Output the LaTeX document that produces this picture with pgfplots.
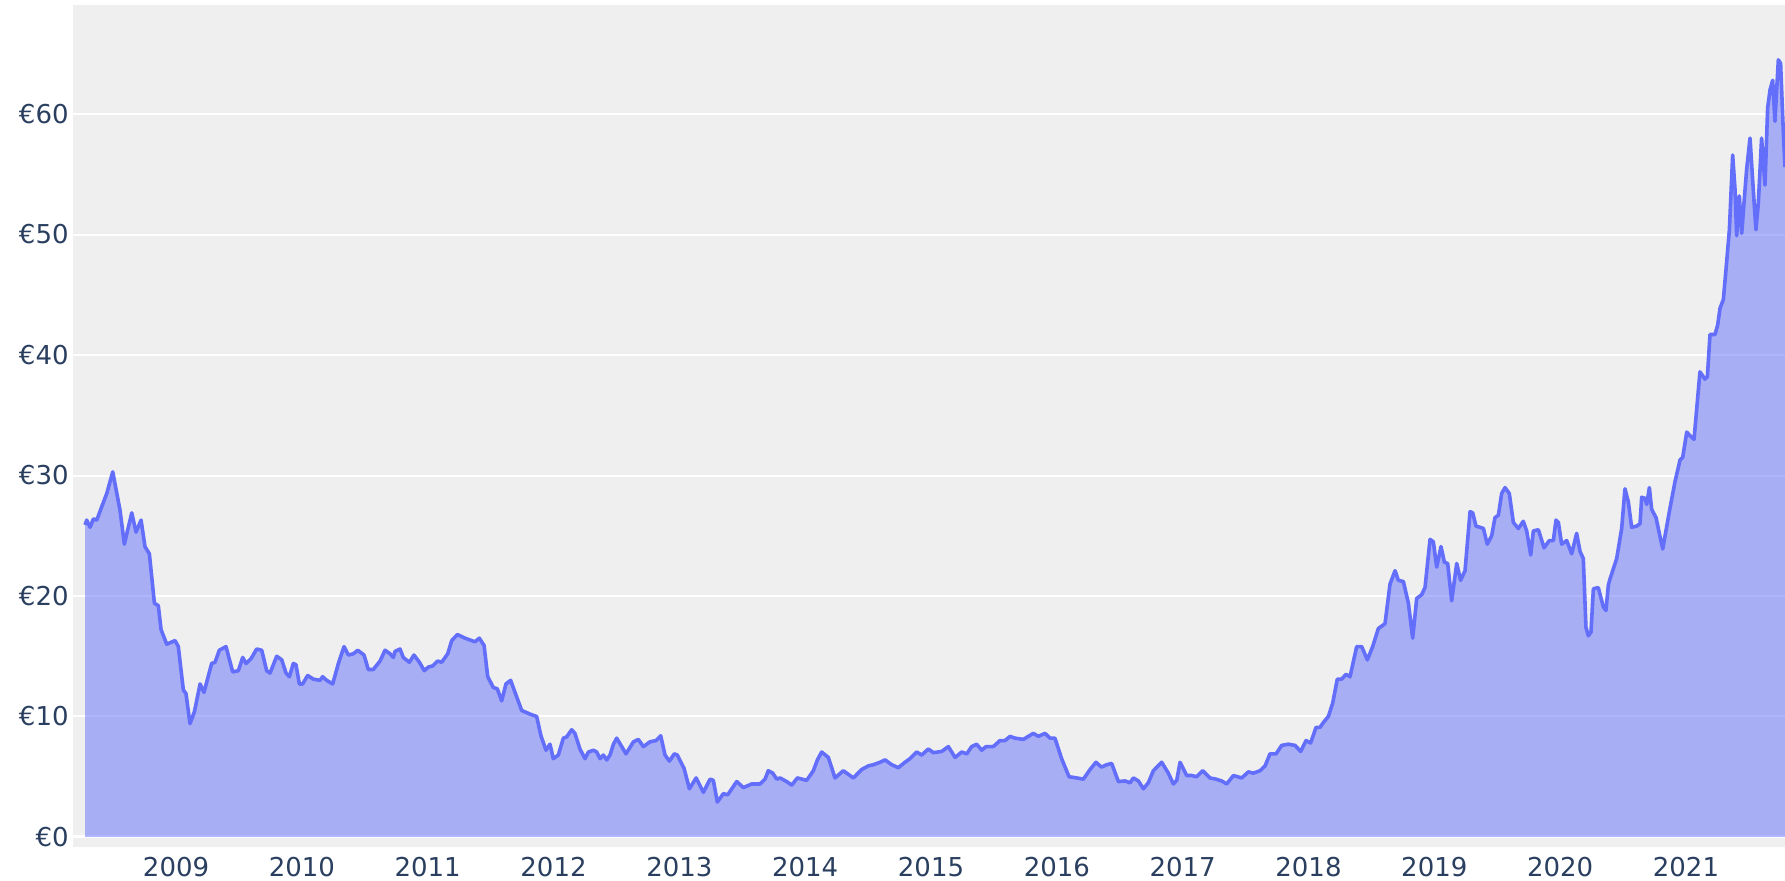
\documentclass[border=0pt]{standalone}
\usepackage{fontspec}
\setmainfont{DejaVu Sans}
\usepackage{pgfplots}
\usepackage{pgfplotstable}
\pgfplotsset{compat=1.18}
\definecolor{plotblue}{HTML}{636EFA}
\definecolor{bggray}{HTML}{EFEFEF}
\definecolor{txt}{HTML}{2A3F5F}

\pgfplotstableread{
yr val
2008.277 25.9
2008.290 26.3
2008.317 25.7
2008.343 26.4
2008.370 26.3
2008.409 27.4
2008.449 28.5
2008.497 30.3
2008.555 27.1
2008.589 24.3
2008.648 26.9
2008.682 25.3
2008.722 26.3
2008.753 24.1
2008.788 23.5
2008.828 19.4
2008.859 19.2
2008.881 17.2
2008.926 16.0
2008.992 16.3
2009.018 15.8
2009.058 12.2
2009.079 11.9
2009.111 9.4
2009.146 10.4
2009.191 12.7
2009.222 12.0
2009.283 14.4
2009.310 14.5
2009.344 15.5
2009.397 15.8
2009.450 13.7
2009.495 13.8
2009.530 14.9
2009.556 14.4
2009.596 14.8
2009.641 15.6
2009.681 15.5
2009.720 13.8
2009.747 13.6
2009.800 15.0
2009.840 14.7
2009.874 13.6
2009.901 13.3
2009.932 14.4
2009.953 14.3
2009.980 12.7
2010.006 12.7
2010.046 13.4
2010.091 13.1
2010.144 13.0
2010.165 13.3
2010.197 13.0
2010.245 12.7
2010.290 14.4
2010.335 15.8
2010.369 15.1
2010.409 15.2
2010.444 15.5
2010.494 15.1
2010.528 13.9
2010.568 13.9
2010.621 14.6
2010.661 15.5
2010.701 15.2
2010.727 14.9
2010.740 15.4
2010.780 15.6
2010.806 14.9
2010.854 14.5
2010.891 15.1
2010.934 14.5
2010.973 13.8
2011.005 14.1
2011.040 14.2
2011.079 14.6
2011.111 14.5
2011.159 15.2
2011.191 16.3
2011.236 16.8
2011.297 16.5
2011.376 16.2
2011.410 16.5
2011.448 15.9
2011.477 13.3
2011.522 12.4
2011.553 12.3
2011.588 11.3
2011.622 12.7
2011.659 13.0
2011.694 12.0
2011.747 10.5
2011.813 10.2
2011.866 10.0
2011.900 8.4
2011.940 7.2
2011.972 7.7
2011.998 6.5
2012.038 6.8
2012.078 8.2
2012.104 8.3
2012.144 8.9
2012.170 8.6
2012.210 7.3
2012.250 6.5
2012.277 7.05
2012.317 7.2
2012.343 7.05
2012.370 6.5
2012.396 6.8
2012.423 6.4
2012.449 6.8
2012.476 7.7
2012.502 8.2
2012.542 7.5
2012.576 6.9
2012.635 7.9
2012.674 8.1
2012.714 7.5
2012.767 7.9
2012.815 8.0
2012.852 8.4
2012.886 6.8
2012.921 6.3
2012.960 6.9
2012.984 6.8
2013.037 5.7
2013.080 4.0
2013.133 4.9
2013.191 3.7
2013.244 4.8
2013.270 4.7
2013.302 2.9
2013.350 3.6
2013.384 3.5
2013.456 4.6
2013.509 4.1
2013.575 4.4
2013.641 4.4
2013.681 4.8
2013.707 5.5
2013.742 5.3
2013.774 4.8
2013.800 4.9
2013.853 4.6
2013.893 4.3
2013.938 4.9
2014.012 4.7
2014.065 5.5
2014.097 6.4
2014.131 7.05
2014.184 6.6
2014.237 4.9
2014.303 5.5
2014.383 4.9
2014.449 5.6
2014.502 5.9
2014.542 6.0
2014.595 6.2
2014.635 6.4
2014.687 6.0
2014.740 5.75
2014.793 6.2
2014.833 6.5
2014.886 7.05
2014.926 6.8
2014.979 7.3
2015.019 7.0
2015.085 7.1
2015.138 7.5
2015.191 6.6
2015.244 7.05
2015.284 6.9
2015.323 7.5
2015.363 7.7
2015.403 7.2
2015.437 7.5
2015.495 7.5
2015.548 8.0
2015.588 8.0
2015.628 8.35
2015.668 8.2
2015.734 8.1
2015.813 8.6
2015.853 8.35
2015.906 8.6
2015.946 8.2
2015.985 8.2
2016.038 6.5
2016.097 5.0
2016.158 4.9
2016.211 4.8
2016.264 5.6
2016.311 6.2
2016.343 5.9
2016.356 5.8
2016.396 6.0
2016.436 6.1
2016.489 4.6
2016.542 4.65
2016.582 4.5
2016.608 4.9
2016.648 4.65
2016.688 4.0
2016.727 4.5
2016.767 5.5
2016.833 6.2
2016.886 5.3
2016.926 4.4
2016.953 4.7
2016.979 6.2
2017.032 5.1
2017.072 5.1
2017.111 5.0
2017.159 5.5
2017.217 4.9
2017.265 4.8
2017.310 4.65
2017.350 4.4
2017.403 5.1
2017.469 4.9
2017.522 5.4
2017.562 5.3
2017.615 5.5
2017.655 5.9
2017.694 6.9
2017.742 6.9
2017.787 7.6
2017.840 7.7
2017.893 7.6
2017.938 7.1
2017.980 8.0
2018.017 7.8
2018.060 9.1
2018.092 9.1
2018.118 9.5
2018.158 10.0
2018.192 11.1
2018.229 13.1
2018.264 13.1
2018.298 13.5
2018.330 13.3
2018.383 15.8
2018.423 15.8
2018.468 14.7
2018.510 15.8
2018.555 17.3
2018.608 17.7
2018.648 21.0
2018.688 22.1
2018.714 21.3
2018.754 21.2
2018.794 19.4
2018.828 16.5
2018.860 19.8
2018.899 20.1
2018.926 20.7
2018.966 24.7
2018.992 24.5
2019.019 22.4
2019.053 24.1
2019.080 22.8
2019.106 22.7
2019.138 19.6
2019.178 22.7
2019.209 21.3
2019.244 22.1
2019.284 27.0
2019.305 26.9
2019.331 25.8
2019.363 25.7
2019.390 25.6
2019.421 24.3
2019.456 25.0
2019.482 26.5
2019.509 26.7
2019.535 28.5
2019.562 29.0
2019.596 28.5
2019.628 26.1
2019.668 25.6
2019.707 26.2
2019.734 25.4
2019.766 23.4
2019.787 25.4
2019.827 25.5
2019.872 24.0
2019.914 24.6
2019.946 24.6
2019.967 26.3
2019.986 26.1
2020.012 24.3
2020.052 24.6
2020.092 23.5
2020.131 25.2
2020.158 23.7
2020.184 23.1
2020.205 17.4
2020.224 16.7
2020.245 17.0
2020.264 20.6
2020.303 20.7
2020.343 19.1
2020.364 18.8
2020.383 20.9
2020.396 21.4
2020.449 23.1
2020.489 25.6
2020.515 28.9
2020.542 27.8
2020.568 25.7
2020.608 25.8
2020.635 26.0
2020.648 28.2
2020.674 28.1
2020.688 27.6
2020.709 29.0
2020.727 27.2
2020.762 26.5
2020.788 25.2
2020.815 23.9
2020.873 27.3
2020.913 29.5
2020.953 31.3
2020.974 31.5
2021.006 33.6
2021.032 33.3
2021.064 33.0
2021.090 36.1
2021.111 38.6
2021.151 38.0
2021.170 38.2
2021.191 41.7
2021.231 41.7
2021.252 42.5
2021.271 43.9
2021.297 44.6
2021.323 47.7
2021.345 50.4
2021.371 56.6
2021.390 53.7
2021.403 49.9
2021.424 53.2
2021.443 50.1
2021.461 52.6
2021.482 55.4
2021.509 58.0
2021.535 53.7
2021.556 50.4
2021.575 52.6
2021.601 58.0
2021.628 54.1
2021.649 60.5
2021.668 62.0
2021.689 62.8
2021.707 59.4
2021.734 64.5
2021.752 64.2
2021.774 58.4
2021.787 55.6
}\pricedata

\begin{document}
\begin{tikzpicture}
\path[use as bounding box] (0,0) rectangle (892.5pt,440.5pt);
\begin{axis}[
  at={(36.5pt,17pt)}, anchor=south west,
  width=856pt, height=421pt, scale only axis,
  xmin=2008.181, xmax=2021.787, ymin=-0.83, ymax=69.05,
  axis line style={draw=none},
  major tick length=0pt,
  xtick={2009,2010,2011,2012,2013,2014,2015,2016,2017,2018,2019,2020,2021},
  xticklabels={2009,2010,2011,2012,2013,2014,2015,2016,2017,2018,2019,2020,2021},
  ytick={10,20,30,40,50,60},
  yticklabels={€10,€20,€30,€40,€50,€60},
  extra y ticks={0}, extra y tick labels={€0},
  extra y tick style={major grid style={white, line width=1.5pt}},
  ymajorgrids, major grid style={white, line width=1pt},
  axis background/.style={fill=bggray},
  tick label style={font=\fontsize{13}{15}\selectfont, text=txt},
  xticklabel style={anchor=north, inner sep=0pt, yshift=-5pt},
  yticklabel style={anchor=east, inner sep=0pt, xshift=-2pt},
]
\addplot[draw=none, fill=plotblue, fill opacity=0.5] table[x=yr,y=val]{\pricedata} \closedcycle;
\addplot[plotblue, line width=1.8pt, line join=round] table[x=yr,y=val]{\pricedata};
\end{axis}
\end{tikzpicture}
\end{document}
